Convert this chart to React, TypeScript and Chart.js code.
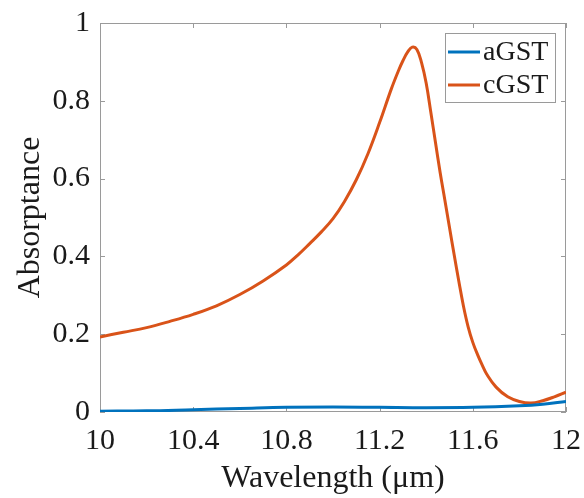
import React, { useEffect, useRef } from "react";
import { Chart, registerables } from "chart.js";

Chart.register(...registerables);

const wavelength = [
  10.0, 10.1, 10.2, 10.3, 10.4, 10.5, 10.6, 10.7, 10.8, 10.85, 10.9, 10.95, 11.0, 11.05, 11.1, 11.15, 11.2, 11.25,
  11.28, 11.3, 11.32, 11.34, 11.36, 11.38, 11.4, 11.42, 11.44, 11.46, 11.48, 11.5, 11.52, 11.54, 11.56, 11.58,
  11.6, 11.62, 11.64, 11.66, 11.7, 11.75, 11.8, 11.85, 11.9, 11.95, 12.0,
];
const cGST = [
  0.193, 0.205, 0.217, 0.233, 0.251, 0.273, 0.302, 0.337, 0.378, 0.404, 0.433, 0.463, 0.497, 0.542, 0.597, 0.664,
  0.744, 0.83, 0.876, 0.903, 0.925, 0.938, 0.932, 0.898, 0.845, 0.77, 0.692, 0.615, 0.545, 0.474, 0.404, 0.336,
  0.272, 0.219, 0.179, 0.148, 0.121, 0.097, 0.064, 0.039, 0.027, 0.023, 0.029, 0.039, 0.051,
];
const aWavelength = [10.0, 10.2, 10.4, 10.6, 10.8, 11.0, 11.2, 11.4, 11.6, 11.8, 11.9, 12.0];
const aGST = [0.002, 0.003, 0.006, 0.009, 0.012, 0.013, 0.012, 0.011, 0.012, 0.016, 0.02, 0.027];

const xTickValues = [10, 10.4, 10.8, 11.2, 11.6, 12];
const yTickValues = [0, 0.2, 0.4, 0.6, 0.8, 1];
const seriesNames = ["aGST", "cGST"];
const seriesColors = ["#0072BD", "#D95319"];

const FONT = '"Liberation Serif", "Times New Roman", serif';
const AXIS_GRAY = "#9a9a9a";
const TEXT = "#1a1a1a";

const fmt = (v: number) => String(Math.round(v * 10) / 10);

const boxPlugin = {
  id: "matlabBox",
  beforeDatasetsDraw(chart: any) {
    const { ctx, chartArea: a, scales } = chart;
    ctx.save();
    ctx.strokeStyle = AXIS_GRAY;
    ctx.lineWidth = 1;
    ctx.strokeRect(a.left + 0.5, a.top + 0.5, a.right - a.left - 1, a.bottom - a.top - 1);
    const tl = 5;
    ctx.beginPath();
    for (const v of xTickValues) {
      const px = Math.round(scales.x.getPixelForValue(v)) + 0.5;
      ctx.moveTo(px, a.bottom);
      ctx.lineTo(px, a.bottom - tl);
      ctx.moveTo(px, a.top);
      ctx.lineTo(px, a.top + tl);
    }
    for (const v of yTickValues) {
      const py = Math.round(scales.y.getPixelForValue(v)) + 0.5;
      ctx.moveTo(a.left, py);
      ctx.lineTo(a.left + tl, py);
      ctx.moveTo(a.right, py);
      ctx.lineTo(a.right - tl, py);
    }
    ctx.stroke();
    ctx.restore();
  },
  afterDatasetsDraw(chart: any) {
    const { ctx, chartArea: a } = chart;
    const w = 111;
    const h = 70;
    const x0 = a.right - 10 - w;
    const y0 = a.top + 10;
    ctx.save();
    ctx.fillStyle = "#ffffff";
    ctx.fillRect(x0, y0, w, h);
    ctx.strokeStyle = AXIS_GRAY;
    ctx.lineWidth = 1;
    ctx.strokeRect(x0 + 0.5, y0 + 0.5, w - 1, h - 1);
    ctx.font = `28px ${FONT}`;
    ctx.textBaseline = "middle";
    ctx.textAlign = "left";
    seriesNames.forEach((name, i) => {
      const cy = y0 + 19 + i * 33;
      ctx.strokeStyle = seriesColors[i];
      ctx.lineWidth = 3;
      ctx.beginPath();
      ctx.moveTo(x0 + 3, cy);
      ctx.lineTo(x0 + 35, cy);
      ctx.stroke();
      ctx.fillStyle = TEXT;
      ctx.fillText(name, x0 + 38, cy + 1);
    });
    ctx.restore();
  },
};

export default function App() {
  const ref = useRef<HTMLCanvasElement | null>(null);

  useEffect(() => {
    if (!ref.current) return;
    const chart = new Chart(ref.current, {
      type: "line",
      data: {
        datasets: [
          {
            label: seriesNames[0],
            data: aWavelength.map((x, i) => ({ x, y: aGST[i] })),
            borderColor: seriesColors[0],
            borderWidth: 3,
            pointRadius: 0,
            tension: 0.4,
          },
          {
            label: seriesNames[1],
            data: wavelength.map((x, i) => ({ x, y: cGST[i] })),
            borderColor: seriesColors[1],
            borderWidth: 3,
            pointRadius: 0,
            tension: 0.4,
          },
        ],
      },
      options: {
        animation: false,
        responsive: false,
        maintainAspectRatio: false,
        layout: { padding: { top: 23, right: 18, left: 0, bottom: 0 } },
        plugins: { legend: { display: false }, tooltip: { enabled: false } },
        scales: {
          x: {
            type: "linear",
            min: 10,
            max: 12,
            afterBuildTicks: (s: any) => {
              s.ticks = xTickValues.map((value) => ({ value }));
            },
            afterFit: (s: any) => {
              s.height = 86;
              s.paddingLeft = 0;
              s.paddingRight = 0;
            },
            grid: { display: false, drawTicks: false },
            border: { display: false },
            ticks: {
              color: TEXT,
              font: { family: FONT, size: 30 },
              padding: 11,
              maxRotation: 0,
              autoSkip: false,
              callback: (v: any) => fmt(Number(v)),
            },
            title: {
              display: true,
              text: "Wavelength (μm)",
              color: TEXT,
              font: { family: FONT, size: 32 },
              padding: { top: 0, bottom: 0 },
            },
          },
          y: {
            type: "linear",
            min: 0,
            max: 1,
            afterBuildTicks: (s: any) => {
              s.ticks = yTickValues.map((value) => ({ value }));
            },
            afterFit: (s: any) => {
              s.width = 100;
              s.paddingTop = 0;
              s.paddingBottom = 0;
            },
            grid: { display: false, drawTicks: false },
            border: { display: false },
            ticks: {
              color: TEXT,
              font: { family: FONT, size: 30 },
              padding: 10,
              autoSkip: false,
              callback: (v: any) => fmt(Number(v)),
            },
            title: {
              display: true,
              text: "Absorptance",
              color: TEXT,
              font: { family: FONT, size: 32 },
              padding: { top: 11, bottom: 0 },
            },
          },
        },
      },
      plugins: [boxPlugin],
    });
    return () => chart.destroy();
  }, []);

  return (
    <div style={{ position: "fixed", left: 0, top: 0, width: 584, height: 498, background: "#fff" }}>
      <canvas ref={ref} width={584} height={498} style={{ width: 584, height: 498 }} />
    </div>
  );
}
